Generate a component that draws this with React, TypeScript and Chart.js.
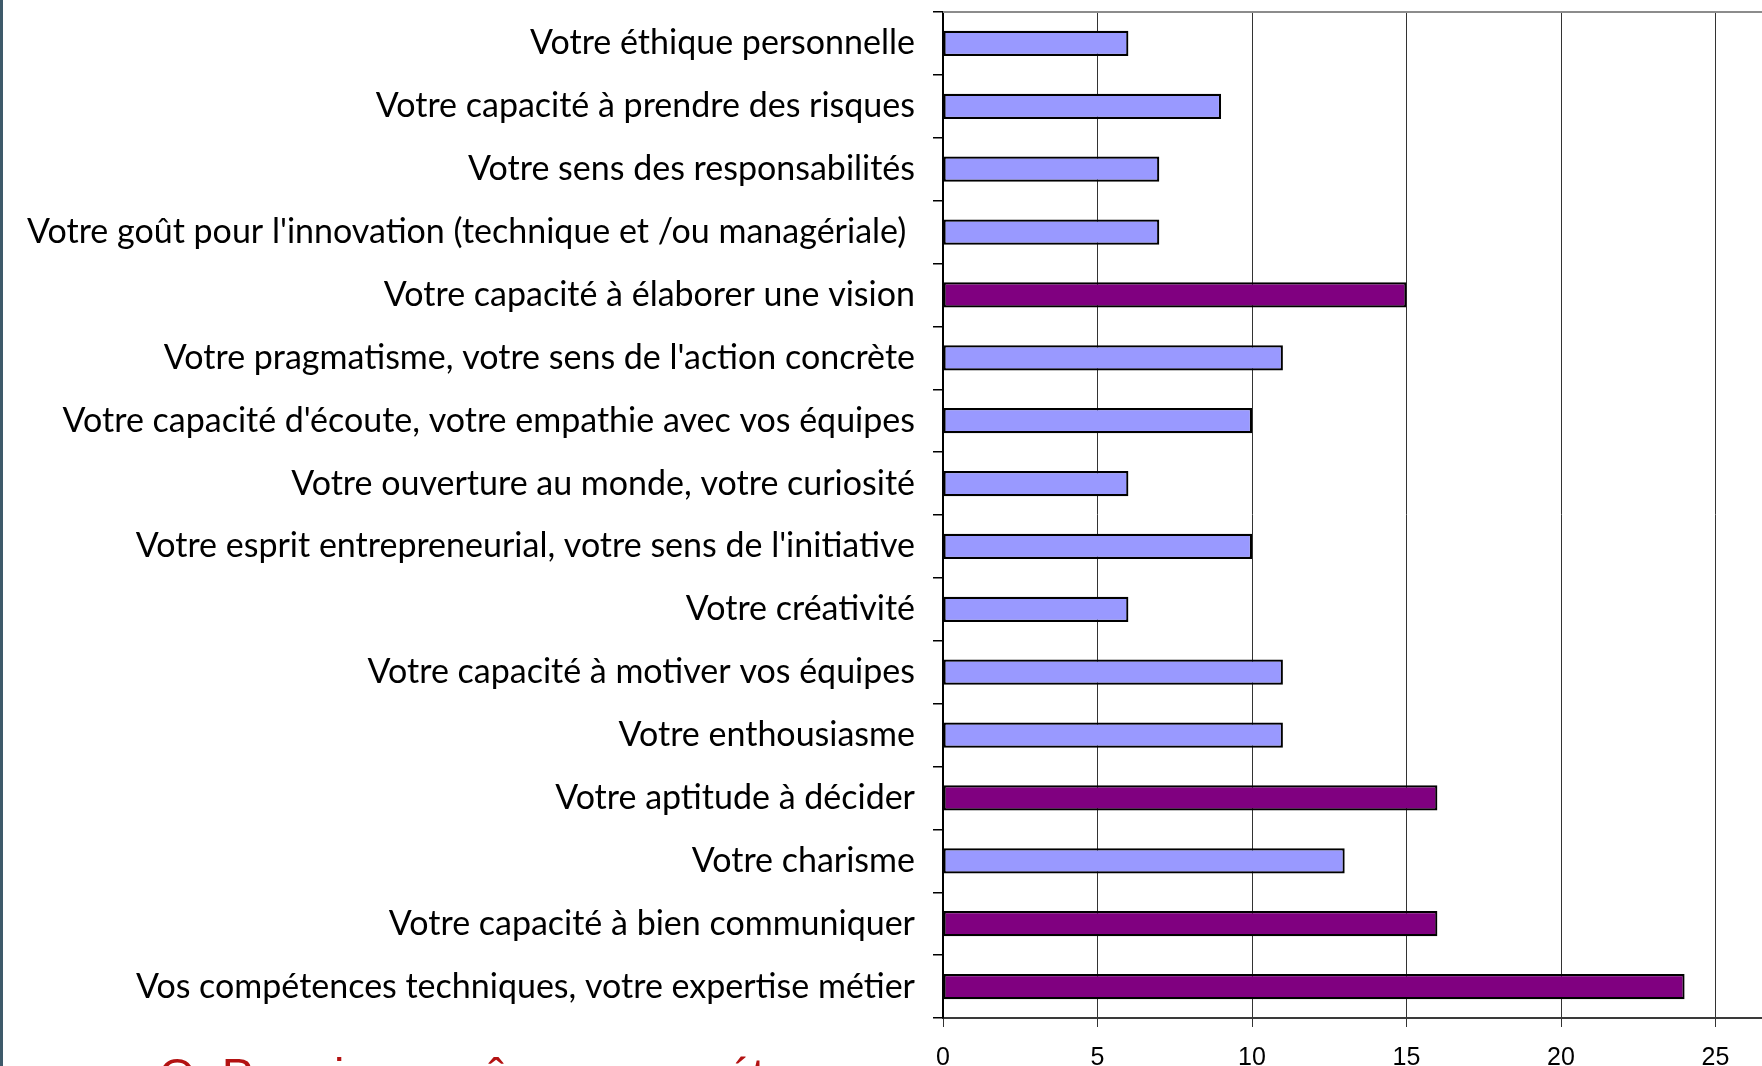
import React, { useEffect, useRef } from "react";
import { Chart, registerables } from "chart.js";

Chart.register(...registerables);

const categories: string[] = [
  "Votre éthique personnelle",
  "Votre capacité à prendre des risques",
  "Votre sens des responsabilités",
  "Votre goût pour l'innovation (technique et /ou managériale) ",
  "Votre capacité à élaborer une vision",
  "Votre pragmatisme, votre sens de l'action concrète",
  "Votre capacité d'écoute, votre empathie avec vos équipes",
  "Votre ouverture au monde, votre curiosité",
  "Votre esprit entrepreneurial, votre sens de l'initiative",
  "Votre créativité",
  "Votre capacité à motiver vos équipes",
  "Votre enthousiasme",
  "Votre aptitude à décider",
  "Votre charisme",
  "Votre capacité à bien communiquer",
  "Vos compétences techniques, votre expertise métier",
];

const values: number[] = [6, 9, 7, 7, 15, 11, 10, 6, 10, 6, 11, 11, 16, 13, 16, 24];

const highlighted: boolean[] = [
  false, false, false, false, true, false, false, false,
  false, false, false, false, true, false, true, true,
];

const xTicks: number[] = [0, 5, 10, 15, 20, 25, 30];

const captionText = "Q. Parmi ces mêmes compétences";

const BASE_COLOR = "#9999ff";
const HIGHLIGHT_COLOR = "#800080";

const topBorderPlugin = {
  id: "topBorder",
  afterDraw(chart: any) {
    const { ctx, chartArea } = chart;
    ctx.save();
    ctx.strokeStyle = "#8c8c8c";
    ctx.lineWidth = 2;
    ctx.beginPath();
    ctx.moveTo(chartArea.left, chartArea.top);
    ctx.lineTo(chartArea.right, chartArea.top);
    ctx.stroke();
    ctx.restore();
  },
};

export default function App() {
  const canvasRef = useRef<HTMLCanvasElement | null>(null);

  useEffect(() => {
    const canvas = canvasRef.current;
    if (!canvas) return;
    const chart = new Chart(canvas, {
      type: "bar",
      data: {
        labels: categories,
        datasets: [
          {
            data: values,
            backgroundColor: highlighted.map((h) => (h ? HIGHLIGHT_COLOR : BASE_COLOR)),
            borderColor: "#000000",
            borderWidth: 2.2,
            borderSkipped: false,
            categoryPercentage: 1,
            barPercentage: 0.4,
          },
        ],
      },
      options: {
        indexAxis: "y",
        responsive: false,
        animation: false,
        devicePixelRatio: 1,
        layout: { padding: { left: 0, right: 30, top: 12, bottom: 0 } },
        plugins: {
          legend: { display: false },
          tooltip: { enabled: false },
          title: { display: false },
        },
        scales: {
          x: {
            type: "linear",
            min: xTicks[0],
            max: xTicks[xTicks.length - 1],
            afterBuildTicks: (scale: any) => {
              scale.ticks = xTicks.map((v) => ({ value: v }));
            },
            afterFit: (scale: any) => {
              scale.height = 59;
              scale.paddingLeft = 0;
            },
            grid: {
              color: "#333333",
              lineWidth: 1,
              tickLength: 9,
              drawTicks: true,
            },
            border: { color: "#3a3a3a", width: 2 },
            ticks: {
              color: "#000000",
              padding: 16,
              font: { family: "'Liberation Sans', Arial, sans-serif", size: 25 },
              maxRotation: 0,
              autoSkip: false,
            },
          },
          y: {
            type: "category",
            afterFit: (scale: any) => {
              scale.width = 943;
              scale.paddingTop = 0;
              scale.paddingBottom = 0;
            },
            grid: {
              drawOnChartArea: false,
              drawTicks: true,
              tickLength: 10,
              color: "#000000",
              lineWidth: 1.5,
              offset: true,
            },
            border: { color: "#000000", width: 2 },
            ticks: {
              color: "#000000",
              padding: 18,
              autoSkip: false,
              font: { family: "Lato, 'Open Sans', sans-serif", size: 34 },
            },
          },
        },
      },
      plugins: [topBorderPlugin],
    });
    return () => chart.destroy();
  }, []);

  return (
    <div
      style={{
        position: "fixed",
        left: 0,
        top: 0,
        width: "100vw",
        height: "100vh",
        overflow: "hidden",
        background: "#ffffff",
      }}
    >
      <canvas
        ref={canvasRef}
        width={1900}
        height={1077}
        style={{ position: "absolute", left: 0, top: 0, width: 1900, height: 1077 }}
      />
      <div
        style={{
          position: "absolute",
          left: 0,
          top: 0,
          width: 3,
          height: "100%",
          background: "#3e5a6a",
        }}
      />
      <div
        style={{
          position: "absolute",
          left: 159,
          top: 1051,
          fontFamily: "'Liberation Sans', Arial, sans-serif",
          fontSize: 47,
          lineHeight: 1,
          color: "#b31212",
          whiteSpace: "nowrap",
        }}
      >
        {captionText}
      </div>
    </div>
  );
}
